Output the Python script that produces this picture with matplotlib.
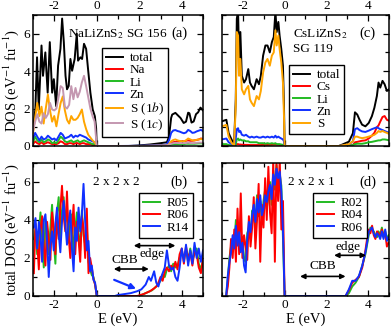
import numpy as np
import matplotlib
matplotlib.use("Agg")
import matplotlib.pyplot as plt
from matplotlib.ticker import MultipleLocator

plt.rcParams['font.family'] = ['Liberation Serif', 'DejaVu Serif']
plt.rcParams['mathtext.fontset'] = 'stix'
plt.rcParams['axes.unicode_minus'] = False

# ---------------- colours ----------------
C_TOT = 'black'
C_RED = '#ff0000'
C_GRN = '#22bb22'
C_BLU = '#1030ff'
C_ORA = '#ffa500'
C_MAU = '#c497b0'

# ---------------- panel (a): NaLiZnS2 SG 156 ----------------
a_tot_E = [-3.0, -2.89, -2.81, -2.73, -2.60, -2.53, -2.42, -2.31, -2.21, -2.10, -2.02, -1.91,
           -1.82, -1.71, -1.63, -1.55, -1.47, -1.40, -1.32, -1.24, -1.16, -1.04, -0.94, -0.88,
           -0.77, -0.69, -0.60, -0.50, -0.41, -0.30, -0.19, -0.09, -0.03, 0.0,
           1.5, 2.0, 2.5, 3.0, 3.3, 3.4, 3.5, 3.55, 3.7, 3.85, 3.94, 4.09, 4.2, 4.3, 4.36,
           4.46, 4.56, 4.67, 4.77, 4.88, 5.0]
a_tot = [0.86, 1.95, 4.74, 1.95, 5.37, 3.75, 5.0, 2.85, 5.55, 2.85, 3.57, 2.13,
         4.29, 5.19, 6.81, 5.55, 3.75, 3.03, 3.21, 4.65, 4.02, 4.65, 6.0, 4.56,
         4.74, 4.65, 5.46, 5.19, 4.11, 2.85, 1.95, 1.59, 0.95, 0.0,
         0.0, 0.03, 0.08, 0.15, 0.2, 0.5, 1.5, 1.68, 1.77, 1.6, 1.5, 1.23, 1.3, 1.78, 1.75,
         1.25, 1.31, 1.7, 1.8, 2.05, 1.9]

a_val_E = list(np.round(np.linspace(-3.0, 0.0, 31), 2))
a_cond_E = [1.0, 2.0, 3.0, 3.3, 3.4, 3.5, 3.6, 3.7, 3.8, 3.9, 4.0, 4.1, 4.2, 4.3, 4.4,
            4.5, 4.6, 4.7, 4.8, 4.9, 5.0]
a_part_E = a_val_E + a_cond_E

a_Na = [0.1, 0.25, 0.15, 0.1, 0.2, 0.1, 0.15, 0.2, 0.15, 0.1, 0.1, 0.1, 0.15, 0.25, 0.2, 0.1,
        0.1, 0.15, 0.15, 0.1, 0.15, 0.15, 0.1, 0.15, 0.15, 0.1, 0.1, 0.1, 0.05, 0.05, 0.0,
        0, 0, 0.01, 0.02, 0.08, 0.18, 0.2, 0.22, 0.22, 0.24, 0.25, 0.25, 0.28, 0.3, 0.28,
        0.28, 0.3, 0.32, 0.35, 0.4, 0.38]
a_Li = [0.2, 0.5, 0.3, 0.2, 0.35, 0.2, 0.25, 0.35, 0.3, 0.15, 0.2, 0.15, 0.3, 0.5, 0.4, 0.25,
        0.2, 0.25, 0.3, 0.2, 0.25, 0.3, 0.2, 0.25, 0.3, 0.25, 0.2, 0.15, 0.1, 0.1, 0.0,
        0, 0, 0.01, 0.01, 0.04, 0.08, 0.1, 0.1, 0.1, 0.1, 0.1, 0.1, 0.12, 0.12, 0.12,
        0.12, 0.12, 0.13, 0.14, 0.14, 0.14]
a_Zn = [0.4, 0.7, 0.5, 0.3, 0.5, 0.35, 0.4, 0.55, 0.45, 0.35, 0.4, 0.3, 0.5, 0.7, 0.6, 0.4,
        0.45, 0.5, 0.6, 0.45, 0.55, 0.5, 0.6, 0.55, 0.5, 0.45, 0.35, 0.3, 0.25, 0.2, 0.0,
        0, 0.01, 0.05, 0.08, 0.3, 0.7, 0.83, 0.85, 0.8, 0.77, 0.72, 0.68, 0.72, 0.86, 0.8,
        0.7, 0.72, 0.78, 0.82, 0.86, 0.8]
a_S1b = [0.7, 1.5, 2.3, 1.6, 2.1, 1.2, 2.0, 2.75, 1.9, 1.3, 1.6, 1.05, 1.7, 2.3, 2.65, 1.9,
         1.4, 1.2, 1.6, 1.4, 1.4, 1.5, 1.7, 1.95, 1.3, 0.9, 0.6, 0.45, 0.3, 0.2, 0.0,
         0, 0, 0.02, 0.03, 0.1, 0.25, 0.32, 0.35, 0.3, 0.27, 0.25, 0.25, 0.3, 0.4, 0.35,
         0.3, 0.3, 0.33, 0.35, 0.37, 0.35]
a_S1c = [0.8, 1.3, 1.7, 1.3, 1.2, 1.75, 1.5, 1.7, 2.3, 1.95, 1.9, 2.0, 2.6, 3.2, 3.1, 2.1,
         2.0, 2.2, 3.2, 2.5, 3.1, 2.6, 2.9, 3.4, 3.75, 3.2, 2.6, 2.0, 1.6, 1.3, 0.0,
         0, 0, 0.02, 0.03, 0.06, 0.12, 0.15, 0.17, 0.16, 0.15, 0.15, 0.15, 0.16, 0.18, 0.16,
         0.15, 0.16, 0.17, 0.18, 0.18, 0.18]

# ---------------- panel (c): CsLiZnS2 SG 119 ----------------
c_val_E = [-3.0, -2.79, -2.68, -2.53, -2.42, -2.34, -2.29, -2.23, -2.18, -2.12, -2.05, -1.94,
           -1.85, -1.74, -1.66, -1.58, -1.47, -1.34, -1.23, -1.14, -1.03, -0.92, -0.82,
           -0.71, -0.61, -0.52, -0.44, -0.38, -0.30, -0.24, -0.16, -0.08, -0.03, 0.0]
c_cond_E = [1.0, 2.6, 3.08, 3.27, 3.37, 3.48, 3.59, 3.71, 3.87, 4.03, 4.18, 4.30, 4.42,
            4.50, 4.58, 4.69, 4.79, 4.90, 5.0]
c_E = c_val_E + c_cond_E

c_tot = [1.32, 1.4, 0.68, 0.32, 0.14, 2.49, 6.8, 7.2, 4.65, 6.09, 3.75, 3.39,
         3.57, 4.11, 3.39, 3.21, 3.03, 3.57, 3.3, 3.75, 4.83, 5.37, 5.37,
         5.0, 5.55, 5.82, 7.2, 6.09, 6.63, 5.9, 5.19, 4.29, 2.13, 0.0,
         0, 0, 0.23, 0.68, 1.8, 1.68, 1.4, 1.14, 1.05, 1.23, 1.59, 2.04, 2.67,
         3.39, 3.12, 3.48, 3.3, 2.94, 3.03]
c_S = [1.05, 1.13, 0.5, 0.14, 0.05, 2.13, 6.09, 5.9, 3.75, 4.65, 3.03, 2.76,
       3.03, 3.21, 2.49, 2.31, 2.13, 2.67, 2.49, 2.94, 3.93, 4.47, 4.65,
       4.29, 4.83, 5.0, 6.18, 5.37, 5.9, 5.19, 4.47, 3.39, 1.59, 0.0,
       0, 0, 0.1, 0.25, 0.5, 0.5, 0.45, 0.42, 0.45, 0.5, 0.55, 0.6, 0.7,
       0.8, 0.75, 0.8, 0.75, 0.7, 0.65]
c_Zn = [0.35, 0.4, 0.2, 0.1, 0.05, 0.4, 0.9, 0.95, 0.75, 0.8, 0.6, 0.55,
        0.6, 0.5, 0.45, 0.5, 0.45, 0.5, 0.45, 0.45, 0.5, 0.45, 0.5,
        0.45, 0.5, 0.45, 0.55, 0.45, 0.5, 0.45, 0.4, 0.35, 0.25, 0.0,
        0, 0, 0.08, 0.25, 0.9, 0.95, 0.85, 0.78, 0.75, 0.82, 0.9, 0.95, 1.0,
        0.95, 0.9, 0.85, 0.8, 0.75, 0.7]
c_Li = [0.1, 0.1, 0.05, 0.02, 0.01, 0.1, 0.35, 0.4, 0.3, 0.35, 0.3, 0.3,
        0.25, 0.25, 0.2, 0.2, 0.2, 0.2, 0.15, 0.15, 0.15, 0.12, 0.15,
        0.12, 0.15, 0.12, 0.15, 0.1, 0.1, 0.1, 0.08, 0.06, 0.05, 0.0,
        0, 0, 0.02, 0.05, 0.1, 0.12, 0.12, 0.12, 0.15, 0.2, 0.22, 0.25, 0.28,
        0.3, 0.3, 0.35, 0.35, 0.33, 0.3]
c_Cs = [0.05, 0.06, 0.03, 0.01, 0.01, 0.05, 0.1, 0.1, 0.08, 0.08, 0.07, 0.06,
        0.06, 0.06, 0.05, 0.05, 0.05, 0.05, 0.05, 0.05, 0.06, 0.06, 0.06,
        0.06, 0.07, 0.07, 0.08, 0.07, 0.07, 0.06, 0.05, 0.04, 0.03, 0.0,
        0, 0, 0.02, 0.05, 0.2, 0.22, 0.25, 0.28, 0.3, 0.4, 0.55, 0.7, 1.0,
        1.1, 1.3, 1.55, 1.6, 1.4, 1.35]

# ---------------- panel (b): 2 x 2 x 2 supercells ----------------
b_val_E = list(np.round(np.linspace(-2.96, 0.0, 39), 3))
b_R05_val = [3.0, 3.5, 2.2, 3.2, 4.4, 3.0, 1.5, 4.0, 3.4, 2.2, 3.6, 4.8, 3.0, 1.7, 4.4, 5.2,
             3.1, 4.5, 5.2, 3.9, 4.6, 2.8, 3.9, 4.3, 2.0, 3.5, 4.4, 3.3, 2.4, 4.5, 3.2, 2.7,
             3.6, 1.8, 1.4, 1.1, 1.0, 0.6, 0.0]
b_R06_val = [1.2, 3.8, 2.9, 1.4, 3.5, 4.2, 2.6, 1.6, 3.9, 3.0, 1.9, 4.4, 3.6, 2.2, 4.2, 3.0,
             4.6, 5.8, 4.2, 3.4, 5.5, 3.2, 2.0, 3.5, 4.8, 2.2, 3.9, 3.0, 1.8, 4.2, 3.6, 2.0,
             4.6, 1.2, 2.0, 1.5, 0.9, 0.6, 0.0]
b_R14_val = [3.6, 4.1, 2.5, 3.9, 3.2, 1.8, 4.0, 4.3, 2.9, 1.0, 2.7, 3.4, 2.4, 3.8, 4.65, 3.3,
             2.3, 3.9, 5.0, 3.8, 2.7, 3.8, 4.5, 2.5, 1.3, 3.6, 2.9, 4.65, 3.4, 4.3, 5.9, 3.9,
             2.4, 2.9, 1.3, 1.6, 0.85, 0.7, 0.0]
b_R05_cE = [2.0, 2.3, 2.6, 2.8, 3.0, 3.1, 3.2, 3.3, 3.4, 3.5, 3.6, 3.7, 3.8, 3.9, 4.0, 4.1,
            4.2, 4.3, 4.4, 4.5, 4.6, 4.7, 4.8, 4.9, 5.0]
b_R05_c = [0.0, 0.15, 0.3, 0.5, 0.8, 1.1, 1.0, 1.4, 1.6, 1.3, 1.7, 1.5, 1.6, 2.0, 2.3, 2.0,
           2.4, 1.8, 2.5, 1.9, 2.2, 2.5, 1.7, 1.4, 1.9]
b_R06_cE = [1.9, 2.2, 2.5, 2.7, 2.85, 3.0, 3.1, 3.2, 3.3, 3.4, 3.5, 3.6, 3.7, 3.8, 3.9, 4.0,
            4.1, 4.2, 4.3, 4.4, 4.5, 4.6, 4.7, 4.8, 4.9, 5.0]
b_R06_c = [0.0, 0.1, 0.25, 0.4, 0.55, 1.0, 0.8, 1.3, 1.5, 1.3, 1.6, 1.4, 1.8, 1.4, 2.2, 2.5,
           1.7, 2.6, 2.0, 2.3, 1.6, 2.4, 2.2, 1.5, 1.2, 2.0]
b_R14_cE = [0.85, 1.0, 1.3, 1.6, 1.9, 2.1, 2.3, 2.45, 2.55, 2.7, 2.8, 2.9, 3.0, 3.1, 3.2, 3.3,
            3.4, 3.5, 3.6, 3.7, 3.8, 3.9, 4.0, 4.1, 4.2, 4.3, 4.4, 4.5, 4.6, 4.7, 4.8, 4.9, 5.0]
b_R14_c = [0.0, 0.05, 0.1, 0.15, 0.25, 0.35, 0.6, 1.0, 0.8, 1.3, 0.7, 0.5, 0.9, 1.2, 1.5, 2.4,
           1.6, 1.4, 1.5, 1.0, 0.8, 1.5, 2.5, 1.8, 2.7, 1.6, 2.4, 1.7, 2.8, 2.0, 2.5, 1.8, 2.4]

# ---------------- panel (d): 2 x 2 x 1 supercells ----------------
d_val_E = list(np.round(np.linspace(-2.8, 0.0, 37), 3))
d_R02_val = [0, 0.9, 2.0, 2.6, 3.0, 2.8, 4.0, 3.0, 3.2, 2.5, 3.1, 2.0, 1.8, 3.3, 3.6, 3.0,
             4.5, 4.4, 3.6, 5.3, 4.2, 5.0, 4.0, 5.0, 5.6, 4.6, 5.2, 6.0, 4.8, 6.6, 5.6, 6.9,
             5.8, 6.4, 5.8, 3.0, 0.0]
d_R04_val = [0, 0.5, 1.5, 3.0, 2.0, 3.5, 1.8, 4.6, 2.2, 5.4, 2.0, 3.2, 2.6, 1.9, 4.2, 2.6,
             3.6, 5.2, 2.5, 4.0, 5.9, 1.8, 4.8, 3.6, 6.2, 4.0, 6.8, 4.4, 3.3, 7.2, 1.8, 7.0,
             5.0, 7.2, 3.5, 5.0, 0.0]
d_R06_val = [0, 1.06, 1.77, 2.3, 3.2, 2.5, 3.7, 2.65, 3.36, 2.3, 2.8, 1.6, 1.24, 3.0, 3.9,
             3.36, 4.25, 4.8, 3.9, 5.1, 4.4, 5.3, 4.25, 4.6, 5.3, 4.95, 5.5, 5.85, 5.1, 6.4,
             5.85, 6.7, 6.2, 6.55, 5.5, 3.4, 0.0]
d_cond_E = [2.92, 3.08, 3.24, 3.40, 3.56, 3.72, 3.87, 3.95, 4.03, 4.11, 4.19, 4.27, 4.35,
            4.43, 4.50, 4.58, 4.66, 4.74, 4.82, 4.90, 4.98]
d_R02_c = [0, 0.15, 0.5, 0.7, 1.0, 1.6, 2.2, 2.7, 3.2, 3.6, 3.5, 3.4, 3.2, 3.1, 3.4, 3.2,
           3.6, 3.1, 3.4, 3.0, 3.2]
d_R04_c = [0, 0.3, 0.7, 0.85, 1.0, 1.5, 2.4, 3.0, 3.5, 3.3, 3.7, 3.2, 3.0, 3.4, 3.3, 3.1,
           3.5, 3.2, 3.3, 2.6, 2.8]
d_R06_c = [0, 0.35, 0.8, 0.8, 1.06, 1.6, 2.3, 2.8, 3.36, 3.5, 3.6, 3.3, 3.1, 3.3, 3.2, 3.0,
           3.4, 3.0, 3.5, 2.9, 3.1]

xticks = [-2, 0, 2, 4]
yticks = [0, 2, 4, 6]

# ---------------- figure ----------------
fig = plt.figure(figsize=(3.92, 3.28), dpi=100)
axa = fig.add_axes([0.0842, 0.5549, 0.4337, 0.3994])
axc = fig.add_axes([0.5663, 0.5549, 0.4260, 0.3994])
axb = fig.add_axes([0.0842, 0.0976, 0.4337, 0.4055])
axd = fig.add_axes([0.5663, 0.0976, 0.4260, 0.4055])

LW = 1.4
FS_T = 9.5
FS_L = 10.5

for ax in (axa, axb, axc, axd):
    ax.set_xlim(-3.0, 5.0)
    ax.set_ylim(0, 7)
    ax.set_xticks(xticks)
    ax.set_yticks(yticks)
    ax.xaxis.set_minor_locator(MultipleLocator(1))
    ax.yaxis.set_minor_locator(MultipleLocator(1))
    ax.tick_params(which='both', direction='in', top=True, right=True, width=0.9,
                   labelsize=FS_T, pad=2)
    ax.tick_params(which='major', length=4.5)
    ax.tick_params(which='minor', length=3)
    for s in ax.spines.values():
        s.set_linewidth(1.1)

for ax in (axa, axc):
    ax.tick_params(labeltop=True, labelbottom=False)
for ax in (axc, axd):
    ax.tick_params(labelleft=False)

# (a)
axa.plot(a_tot_E, a_tot, color=C_TOT, lw=LW, label='total')
axa.plot(a_part_E, a_Na, color=C_RED, lw=LW, label='Na')
axa.plot(a_part_E, a_Li, color=C_GRN, lw=LW, label='Li')
axa.plot(a_part_E, a_Zn, color=C_BLU, lw=LW, label='Zn')
axa.plot(a_part_E, a_S1b, color=C_ORA, lw=LW, label='S (1$b$)')
axa.plot(a_part_E, a_S1c, color=C_MAU, lw=LW, label='S (1$c$)')
axa.text(-1.36, 6.0, 'NaLiZnS$_2$ SG 156', fontsize=FS_T, ha='left', va='center')
axa.text(3.53, 6.0, '(a)', fontsize=FS_L, ha='left', va='center')
axa.legend(loc='upper left', bbox_to_anchor=(0.406, 0.748), borderaxespad=0,
           fontsize=FS_T, frameon=True, fancybox=False, edgecolor='black',
           framealpha=1, labelspacing=0.0, handlelength=1.3, handletextpad=0.5,
           borderpad=0.3).get_frame().set_linewidth(1.0)
axa.set_ylabel('DOS (eV$^{-1}$ fu$^{-1}$)', fontsize=FS_L, labelpad=2)

# (c)
axc.plot(c_E, c_tot, color=C_TOT, lw=LW, label='total')
axc.plot(c_E, c_Cs, color=C_RED, lw=LW, label='Cs')
axc.plot(c_E, c_Li, color=C_GRN, lw=LW, label='Li')
axc.plot(c_E, c_Zn, color=C_BLU, lw=LW, label='Zn')
axc.plot(c_E, c_S, color=C_ORA, lw=LW, label='S')
axc.text(0.42, 6.0, 'CsLiZnS$_2$', fontsize=FS_T, ha='left', va='center')
axc.text(0.42, 5.2, 'SG 119', fontsize=FS_T, ha='left', va='center')
axc.text(3.57, 6.0, '(c)', fontsize=FS_L, ha='left', va='center')
axc.legend(loc='upper left', bbox_to_anchor=(0.401, 0.618), borderaxespad=0,
           fontsize=FS_T, frameon=True, fancybox=False, edgecolor='black',
           framealpha=1, labelspacing=0.0, handlelength=1.3, handletextpad=0.5,
           borderpad=0.3).get_frame().set_linewidth(1.0)

# (b)
axb.plot(b_val_E + b_R05_cE, b_R05_val + b_R05_c, color=C_GRN, lw=LW, label='R05')
axb.plot(b_val_E + b_R06_cE, b_R06_val + b_R06_c, color=C_RED, lw=LW, label='R06')
axb.plot(b_val_E + b_R14_cE, b_R14_val + b_R14_c, color=C_BLU, lw=LW, label='R14')
axb.text(0.9, 6.0, '2 x 2 x 2', fontsize=FS_T, ha='center', va='center')
axb.text(3.86, 6.0, '(b)', fontsize=FS_L, ha='center', va='center')
axb.legend(loc='upper left', bbox_to_anchor=(0.624, 0.774), borderaxespad=0,
           fontsize=FS_T, frameon=True, fancybox=False, edgecolor='black',
           framealpha=1, labelspacing=0.0, handlelength=1.3, handletextpad=0.5,
           borderpad=0.3).get_frame().set_linewidth(1.0)
arw = dict(arrowstyle='<|-|>', color='black', lw=1.2, mutation_scale=7, shrinkA=0, shrinkB=0)
axb.annotate('', xy=(2.45, 1.42), xytext=(0.8, 1.42), arrowprops=arw)
axb.text(1.3, 1.9, 'CBB', fontsize=FS_T, ha='center', va='center')
axb.annotate('', xy=(3.7, 2.65), xytext=(1.74, 2.65), arrowprops=arw)
axb.text(2.6, 2.2, 'edge', fontsize=FS_T, ha='center', va='center')
axb.annotate('', xy=(1.85, 0.38), xytext=(0.82, 0.85),
             arrowprops=dict(arrowstyle='-|>', color=C_BLU, lw=1.6, mutation_scale=8,
                             shrinkA=0, shrinkB=0))
axb.set_ylabel('total DOS (eV$^{-1}$ fu$^{-1}$)', fontsize=FS_L, labelpad=2)
axb.set_xlabel('E (eV)', fontsize=FS_L, labelpad=1)

# (d)
axd.plot(d_val_E + d_cond_E, d_R02_val + d_R02_c, color=C_GRN, lw=LW, label='R02')
axd.plot(d_val_E + d_cond_E, d_R04_val + d_R04_c, color=C_RED, lw=LW, label='R04')
axd.plot(d_val_E + d_cond_E, d_R06_val + d_R06_c, color=C_BLU, lw=LW, label='R06')
axd.text(1.26, 6.0, '2 x 2 x 1', fontsize=FS_T, ha='center', va='center')
axd.text(3.98, 6.0, '(d)', fontsize=FS_L, ha='center', va='center')
axd.legend(loc='upper left', bbox_to_anchor=(0.545, 0.774), borderaxespad=0,
           fontsize=FS_T, frameon=True, fancybox=False, edgecolor='black',
           framealpha=1, labelspacing=0.0, handlelength=1.3, handletextpad=0.5,
           borderpad=0.3).get_frame().set_linewidth(1.0)
axd.annotate('', xy=(2.92, 1.03), xytext=(0.74, 1.03), arrowprops=arw)
axd.text(1.82, 1.56, 'CBB', fontsize=FS_T, ha='center', va='center')
axd.annotate('', xy=(3.9, 2.14), xytext=(2.37, 2.14), arrowprops=arw)
axd.text(3.05, 2.6, 'edge', fontsize=FS_T, ha='center', va='center')
axd.set_xlabel('E (eV)', fontsize=FS_L, labelpad=1)

fig.savefig('out.png', dpi=100)
